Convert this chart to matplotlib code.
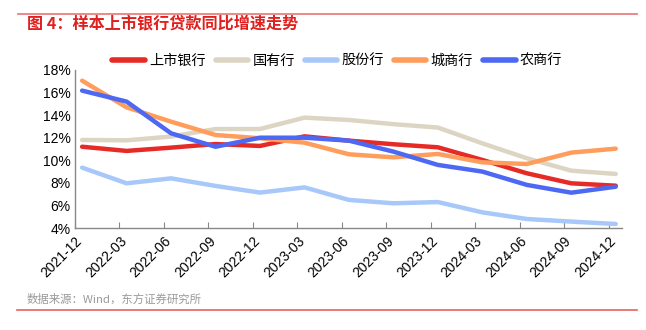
import matplotlib
matplotlib.use("Agg")
import matplotlib.pyplot as plt

plt.rcParams['font.family'] = ['Liberation Sans', 'Noto Sans CJK SC', 'DejaVu Sans']

quarters = ["2021-12", "2022-03", "2022-06", "2022-09", "2022-12", "2023-03", "2023-06",
            "2023-09", "2023-12", "2024-03", "2024-06", "2024-09", "2024-12"]

listed_banks = [11.2, 10.83, 11.12, 11.44, 11.27, 12.12, 11.74, 11.42, 11.15, 10.03, 8.85, 7.96, 7.75]
state_owned = [11.8, 11.77, 12.1, 12.77, 12.77, 13.78, 13.57, 13.2, 12.9, 11.5, 10.18, 9.08, 8.79]
joint_stock = [9.35, 7.96, 8.4, 7.73, 7.14, 7.6, 6.49, 6.19, 6.3, 5.39, 4.8, 4.57, 4.36]
city_comm = [17.05, 14.69, 13.42, 12.24, 11.95, 11.56, 10.53, 10.26, 10.56, 9.82, 9.67, 10.68, 11.03]
rural_comm = [16.17, 15.2, 12.39, 11.2, 12.0, 12.0, 11.74, 10.77, 9.59, 9.0, 7.82, 7.13, 7.66]

series_names = ["上市银行", "国有行", "股份行", "城商行", "农商行"]
series_values = [listed_banks, state_owned, joint_stock, city_comm, rural_comm]
series_colors = ["#E62A26", "#DDD5C3", "#A8C8FA", "#FF9D5C", "#4D68F2"]

fig = plt.figure(figsize=(6.46, 3.30), dpi=100)
ax = fig.add_axes([0.1161, 0.309, 0.9628 - 0.1161, 0.788 - 0.309])

xs = [i + 0.16 for i in range(len(quarters))]
for name, vals, col in zip(series_names, series_values, series_colors):
    ax.plot(xs, vals, color=col, lw=3.2, label=name, solid_capstyle='round', solid_joinstyle='round')

ax.set_xlim(0, 12.3)
ax.set_ylim(4, 18)
ax.set_yticks(range(4, 19, 2))
ax.set_yticklabels([f"{v}%" for v in range(4, 19, 2)], fontsize=10)
ax.set_xticks(range(len(quarters)))
ax.set_xticklabels(quarters, rotation=45, ha='right', rotation_mode='anchor', fontsize=10)
ax.tick_params(axis='x', direction='in', length=4, color='#888888', pad=4)
ax.tick_params(axis='y', length=0, pad=3)
for s in ['top', 'right']:
    ax.spines[s].set_visible(False)
for s in ['left', 'bottom']:
    ax.spines[s].set_color('#888888')
    ax.spines[s].set_linewidth(1)

leg = fig.legend(loc='center', bbox_to_anchor=(0.522, 0.816), ncol=5, frameon=False,
                 prop={'family': ['Noto Sans CJK SC'], 'size': 10.2}, handlelength=2.3,
                 columnspacing=0.7, handletextpad=0.3)
for line in leg.get_lines():
    line.set_linewidth(4)

title_red = "#E0201F"
fig.add_artist(plt.Line2D([18 / 646, 637 / 646], [1 - 14 / 330, 1 - 14 / 330], color="#E88080", lw=1.3))
fig.text(27 / 646, 1 - 23 / 330, "图 4：样本上市银行贷款同比增速走势", color=title_red, fontsize=11.6,
         fontweight='bold', family=['Noto Sans CJK SC'], va='center', ha='left')
fig.text(27 / 646, 1 - 299 / 330, "数据来源：Wind，东方证券研究所", color="#999999", fontsize=8.2,
         family=['Noto Sans CJK SC'], va='center', ha='left')
fig.add_artist(plt.Line2D([17 / 646, 637 / 646], [1 - 310 / 330, 1 - 310 / 330], color="#E86060", lw=1.2))

fig.savefig("out.png", dpi=100)
